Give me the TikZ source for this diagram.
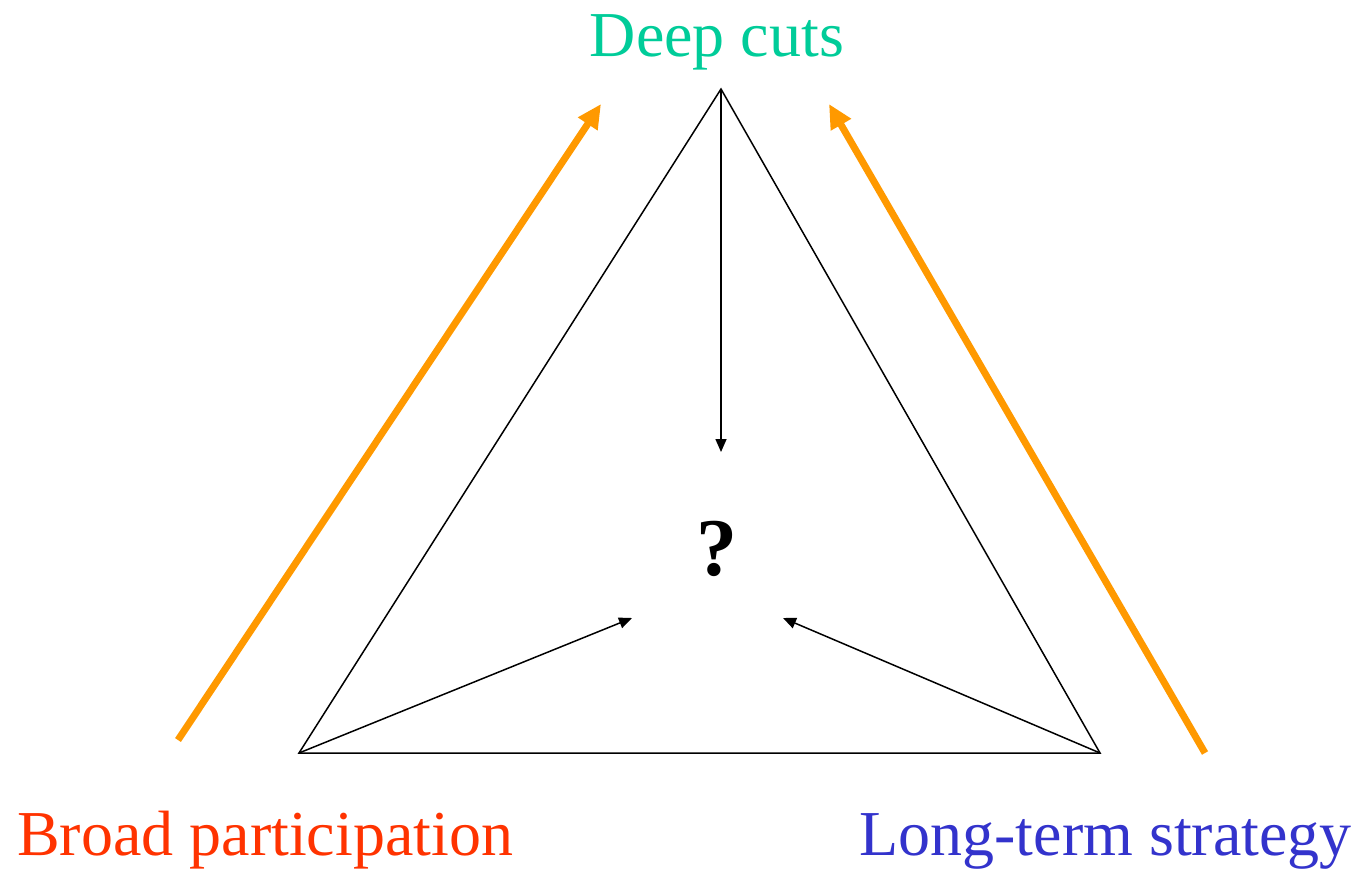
\documentclass[tikz,border=0pt]{standalone}
\usepackage{fontspec}
\setmainfont{Liberation Serif}
\usetikzlibrary{arrows.meta}
\definecolor{deepgreen}{RGB}{0,204,153}
\definecolor{broadred}{RGB}{255,51,0}
\definecolor{longblue}{RGB}{51,51,204}
\definecolor{orangearr}{RGB}{255,153,0}
\begin{document}
\begin{tikzpicture}[x=1pt,y=-1pt,
  lbl/.style={inner sep=0pt,anchor=base,font=\fontsize{64}{70}\selectfont},
  edge/.style={draw=black,line width=1.5pt},
  thinarrow/.style={draw=black,line width=1.5pt,-{Triangle[length=13pt,width=11pt]}},
  bigarrow/.style={draw=orangearr,line width=7pt,-{Triangle[length=24pt,width=22pt]}}]
\useasboundingbox (0,0) rectangle (1356,870);
% labels
\node[lbl,text=deepgreen] (deep) at (717,56) {Deep cuts};
\node[lbl,text=broadred,anchor=base west] (broad) at (17,855) {Broad participation};
\node[lbl,text=longblue,anchor=base east] (long) at (1352,855) {Long-term strategy};
\node[inner sep=0pt,anchor=base,font=\fontsize{82}{90}\selectfont\bfseries] (q) at (717,575) {?};
% triangle vertices
\coordinate (A) at (721,89);
\coordinate (B) at (299,753);
\coordinate (C) at (1100,753);
\draw[edge] (A) -- (B) -- (C) -- cycle;
% inner arrow ends
\coordinate (tA) at (721,452);
\coordinate (tB) at (632,618);
\coordinate (tC) at (783,618);
\draw[thinarrow] (A) -- (tA);
\draw[thinarrow] (B) -- (tB);
\draw[thinarrow] (C) -- (tC);
% orange arrows
\coordinate (oL1) at (178,740);
\coordinate (oL2) at (601,104);
\coordinate (oR1) at (1205,753);
\coordinate (oR2) at (829,104);
\draw[bigarrow] (oL1) -- (oL2);
\draw[bigarrow] (oR1) -- (oR2);
\end{tikzpicture}
\end{document}
